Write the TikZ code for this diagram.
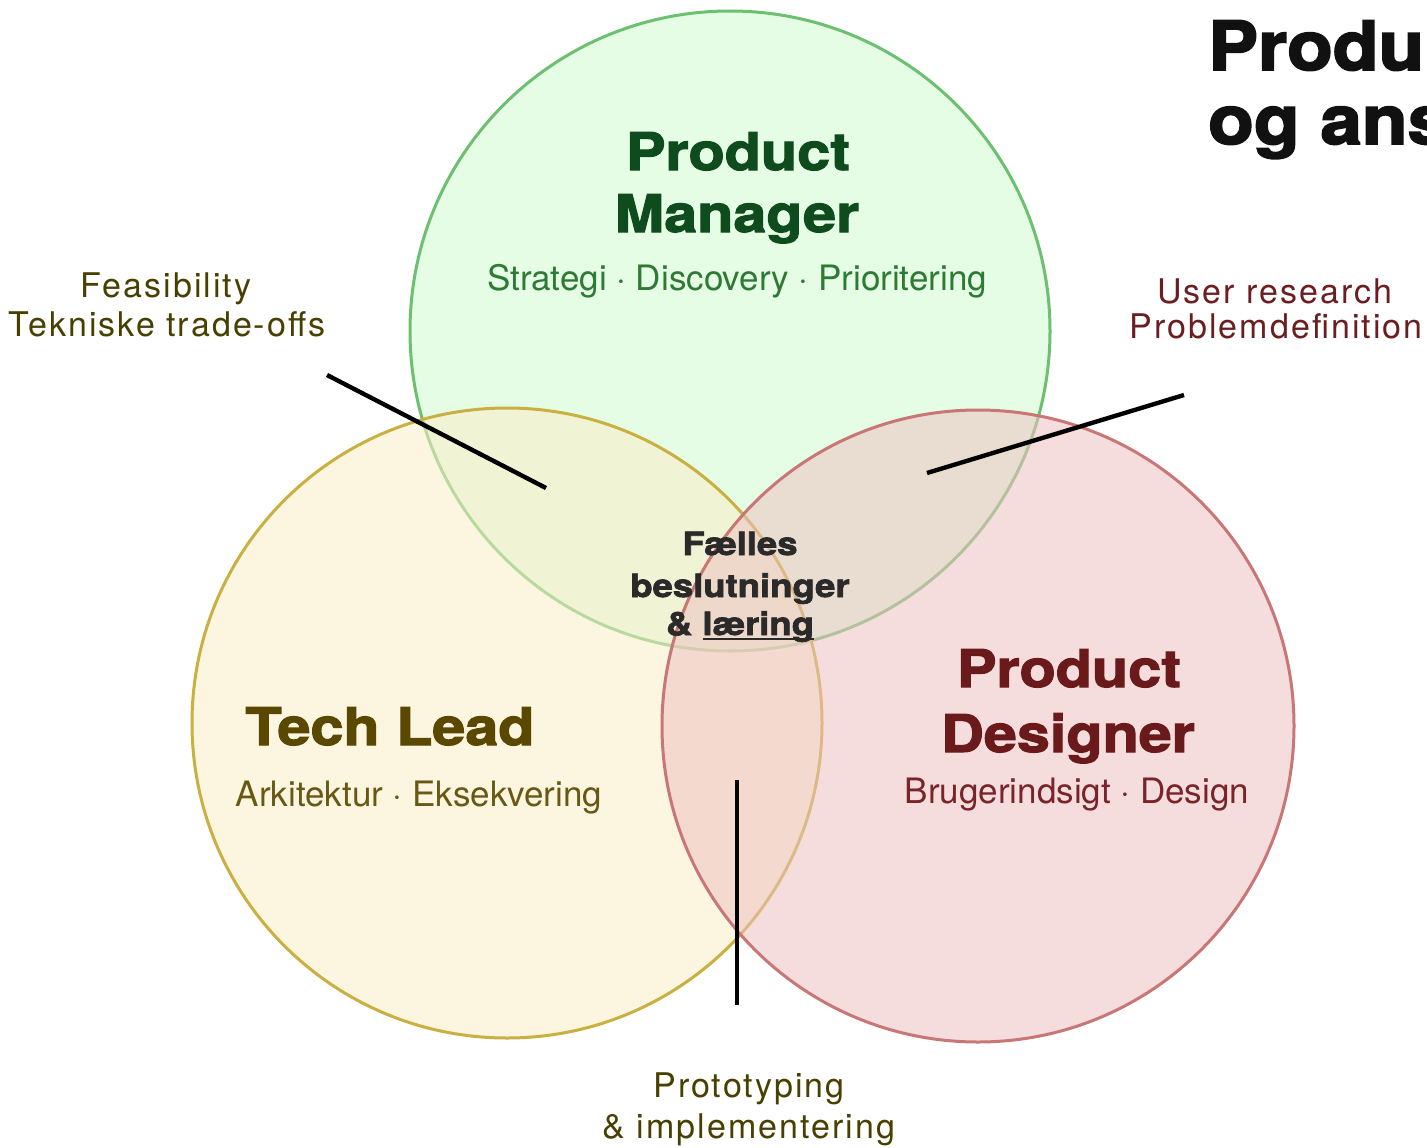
\documentclass[tikz,border=0pt]{standalone}
\usepackage{fontspec}
\setmainfont{texgyreheros-regular}[Extension=.otf]
\newfontfamily\heavy{texgyreheros-bold}[Extension=.otf, FakeStretch=1.14, FakeBold=2.2]
\newfontfamily\heavytitle{texgyreheros-bold}[Extension=.otf, FakeStretch=1.1, FakeBold=2.6]
\newfontfamily\lighttext{texgyreheros-regular}[Extension=.otf]
\newfontfamily\labeltext{texgyreheros-regular}[Extension=.otf, LetterSpace=6]
\newcommand\myul[1]{\setbox0\hbox{#1}\rlap{\rule[-5pt]{\wd0}{2.2pt}}\box0}
\definecolor{pmfill}{RGB}{208,250,208}
\definecolor{pmline}{RGB}{108,192,112}
\definecolor{tlfill}{RGB}{250,238,200}
\definecolor{tlline}{RGB}{201,176,64}
\definecolor{pdfill}{RGB}{238,194,194}
\definecolor{pdline}{RGB}{201,118,118}
\definecolor{pmdark}{RGB}{14,76,30}
\definecolor{pmsub}{RGB}{46,122,52}
\definecolor{tldark}{RGB}{90,72,0}
\definecolor{tlsub}{RGB}{104,88,20}
\definecolor{pddark}{RGB}{106,26,26}
\definecolor{pdsub}{RGB}{120,36,40}
\definecolor{olivelbl}{RGB}{72,64,0}
\definecolor{redlbl}{RGB}{106,30,34}
\definecolor{centertxt}{RGB}{42,42,42}
\definecolor{titletxt}{RGB}{17,17,17}
\tikzset{
  venn/.style={circle, line width=3pt, fill opacity=0.55, draw opacity=1, inner sep=0pt},
  role/.style={anchor=base, font=\heavy\fontsize{52}{52}\selectfont},
  sub/.style={anchor=base, font=\lighttext\fontsize{35}{35}\selectfont},
  lbl/.style={anchor=base, font=\labeltext\fontsize{34}{34}\selectfont},
  centre/.style={anchor=base, font=\heavy\fontsize{32}{32}\selectfont, text=centertxt},
  leader/.style={line width=4.4pt, black},
}
\begin{document}
\begin{tikzpicture}[x=1pt,y=-1pt]
\useasboundingbox (0,0) rectangle (1427,1148);
\clip (0,0) rectangle (1427,1148);
\fill[white] (0,0) rectangle (1427,1148);
% circles
\node[venn, draw=pmline, fill=pmfill, minimum size=640pt] (pm) at (730,331) {};
\node[venn, draw=tlline, fill=tlfill, minimum size=630pt] (tl) at (507,723) {};
\node[venn, draw=pdline, fill=pdfill, minimum size=632pt] (pd) at (978,726) {};
% title (clipped by the page edge, as in the reference)
\node[anchor=base west, font=\heavytitle\fontsize{68}{68}\selectfont, text=titletxt, inner sep=0pt] (t1) at (1208,70) {Produk};
\node[anchor=base west, font=\heavytitle\fontsize{68}{68}\selectfont, text=titletxt, inner sep=0pt] (t2) at (1208,144) {og ansv};
% product manager
\node[role, text=pmdark] (pm1) at (738,170) {Product};
\node[role, text=pmdark] (pm2) at (737,232) {Manager};
\node[sub, text=pmsub] (pm3) at (737,290) {Strategi · Discovery · Prioritering};
% tech lead
\node[role, text=tldark] (tl1) at (390,745) {Tech Lead};
\node[sub, text=tlsub] (tl2) at (419,806) {Arkitektur · Eksekvering};
% product designer
\node[role, text=pddark] (pd1) at (1069,687) {Product};
\node[role, text=pddark] (pd2) at (1068,752) {Designer};
\node[sub, text=pdsub] (pd3) at (1077,803) {Brugerindsigt · Design};
% centre
\node[centre] (c1) at (740,555) {Fælles};
\node[centre] (c2) at (740,597) {beslutninger};
\node[centre] (c3) at (740,635) {\&~\myul{læring}};
% side labels
\node[lbl, text=olivelbl] (f1) at (166,297) {Feasibility};
\node[lbl, text=olivelbl] (f2) at (167,336) {Tekniske trade-offs};
\node[lbl, text=redlbl] (u1) at (1275,303) {User research};
\node[lbl, text=redlbl] (u2) at (1276,338) {Problemdefinition};
\node[lbl, text=olivelbl] (p1) at (749,1097) {Prototyping};
\node[lbl, text=olivelbl] (p2) at (749,1138) {\& implementering};
% leader lines
\coordinate (fa) at (327,375);
\coordinate (fb) at (546,488);
\coordinate (ua) at (1184,395);
\coordinate (ub) at (927,473);
\coordinate (pa) at (737,780);
\coordinate (pb) at (737,1005);
\draw[leader] (fa) -- (fb);
\draw[leader] (ua) -- (ub);
\draw[leader] (pa) -- (pb);
\end{tikzpicture}
\end{document}
